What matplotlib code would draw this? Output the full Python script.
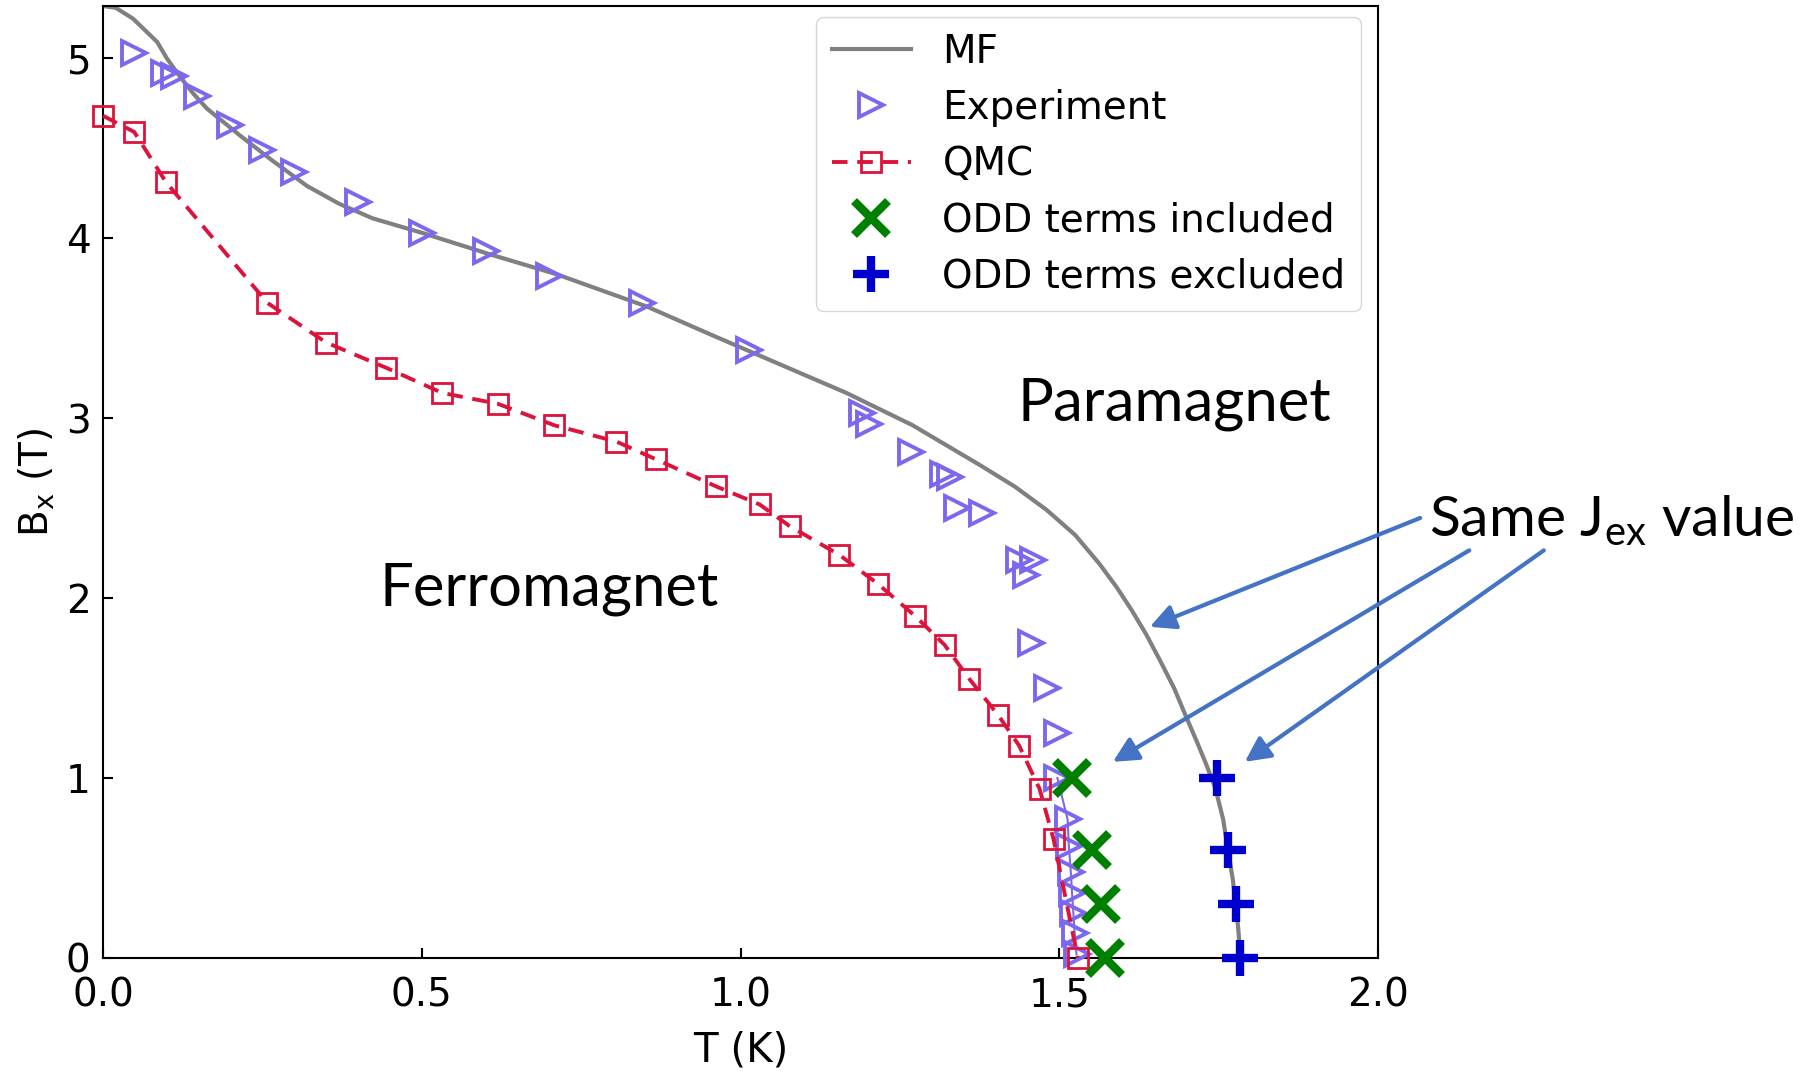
import numpy as np
import matplotlib
matplotlib.use("Agg")
import matplotlib.pyplot as plt

# mean-field phase boundary (grey line)
mf_T = [0.0, 0.02, 0.047, 0.085, 0.10, 0.116, 0.14, 0.163, 0.215, 0.266, 0.32, 0.371,
        0.423, 0.50, 0.607, 0.711, 0.853, 0.956, 1.061, 1.166, 1.27, 1.375, 1.43, 1.48,
        1.525, 1.563, 1.59, 1.614, 1.636, 1.657, 1.68, 1.699, 1.716, 1.73, 1.745, 1.757,
        1.765, 1.772, 1.777, 1.781, 1.784]
mf_B = [5.29, 5.28, 5.22, 5.09, 5.00, 4.92, 4.81, 4.72, 4.57, 4.43, 4.29, 4.19,
        4.11, 4.03, 3.91, 3.80, 3.62, 3.46, 3.30, 3.14, 2.96, 2.74, 2.62, 2.49,
        2.35, 2.19, 2.06, 1.93, 1.80, 1.66, 1.50, 1.34, 1.20, 1.08, 0.94, 0.77,
        0.59, 0.44, 0.29, 0.15, 0.0]

# experiment (triangles)
exp_T = [0.049, 0.096, 0.112, 0.148, 0.199, 0.249, 0.30, 0.40, 0.50, 0.60, 0.70, 0.846,
         1.014, 1.191, 1.202, 1.268, 1.317, 1.328, 1.339, 1.379, 1.437, 1.458, 1.448,
         1.456, 1.48, 1.497]
exp_B = [5.03, 4.92, 4.90, 4.79, 4.63, 4.49, 4.37, 4.20, 4.03, 3.93, 3.79, 3.64,
         3.38, 3.03, 2.97, 2.81, 2.69, 2.67, 2.50, 2.47, 2.21, 2.21, 2.13,
         1.75, 1.50, 1.25]
# low-field experiment points (joined by a thin line)
exp_low_T = [1.497, 1.513, 1.515, 1.518, 1.520, 1.522, 1.524, 1.527]
exp_low_B = [1.00, 0.77, 0.62, 0.48, 0.36, 0.25, 0.14, 0.02]

# quantum Monte Carlo
qmc_T = [0.0, 0.049, 0.099, 0.258, 0.35, 0.444, 0.532, 0.619, 0.708, 0.805, 0.868, 0.962,
         1.03, 1.077, 1.155, 1.215, 1.274, 1.32, 1.359, 1.404, 1.437, 1.469, 1.491, 1.529]
qmc_B = [4.68, 4.59, 4.31, 3.64, 3.42, 3.28, 3.14, 3.08, 2.96, 2.87, 2.77, 2.62,
         2.52, 2.40, 2.24, 2.08, 1.90, 1.74, 1.55, 1.35, 1.18, 0.94, 0.66, 0.0]

odd_inc_T = [1.520, 1.552, 1.566, 1.571]
odd_inc_B = [1.0, 0.6, 0.3, 0.0]
odd_exc_T = [1.748, 1.765, 1.777, 1.784]
odd_exc_B = [1.0, 0.6, 0.3, 0.0]

arrow_blue = "#4472C4"

fig = plt.figure(figsize=(18.04, 10.73), dpi=100)
ax = fig.add_axes([0.0571, 0.1072, 0.7068, 0.8872])

ax.plot(mf_T, mf_B, color="grey", lw=3, label="MF", zorder=2)
ax.plot(exp_T, exp_B, ls="none", marker=">", ms=17, mfc="none", mec="mediumslateblue",
        mew=2.8, label="Experiment", zorder=3)
ax.plot(exp_low_T, exp_low_B, ls="-", lw=1.5, color="mediumslateblue", marker=">", ms=17,
        mfc="none", mec="mediumslateblue", mew=2.8, zorder=3, clip_on=False)
ax.plot(qmc_T, qmc_B, ls="--", lw=2.8, color="crimson", marker="s", ms=14, mfc="none",
        mec="crimson", mew=2, dashes=(4, 2.5), label="QMC", zorder=4, clip_on=False)
ax.plot(odd_inc_T, odd_inc_B, ls="none", marker="x", ms=24, mew=6, color="green",
        label="ODD terms included", zorder=5, clip_on=False)
ax.plot(odd_exc_T, odd_exc_B, ls="none", marker="+", ms=26, mew=6, color="mediumblue",
        label="ODD terms excluded", zorder=5, clip_on=False)

ax.set_xlim(0, 2.0)
ax.set_ylim(0, 5.29)
ax.set_xticks([0.0, 0.5, 1.0, 1.5, 2.0])
ax.set_yticks([0, 1, 2, 3, 4, 5])
ax.tick_params(direction="in", length=7, width=1.5, labelsize=28)
ax.tick_params(axis="x", pad=13)
ax.tick_params(axis="y", pad=9)
for s in ax.spines.values():
    s.set_linewidth(1.5)
ax.set_xlabel("T (K)", fontsize=29, labelpad=12)
ax.set_ylabel(r"B$_\mathregular{x}$ (T)", fontsize=28, labelpad=6)

leg = ax.legend(loc="upper right", bbox_to_anchor=(0.9867, 0.9884), fontsize=28,
                labelspacing=0.47, handlelength=2.05, borderaxespad=0.0, framealpha=0.8)

# annotations
ax.text(1.434, 3.08, "Paramagnet", fontsize=43, family="Lato", va="center", ha="left")
ax.text(0.434, 2.05, "Ferromagnet", fontsize=43, family="Lato", va="center", ha="left")
ax.text(2.08, 2.43, r"Same J$_\mathregular{ex}$ value", fontsize=41, family="Lato",
        va="center", ha="left", clip_on=False)

arrows = [((1.642, 1.84), (2.066, 2.445)),
          ((1.584, 1.09), (2.143, 2.265)),
          ((1.791, 1.09), (2.26, 2.265))]
for head, tail in arrows:
    ax.annotate("", xy=head, xytext=tail, annotation_clip=False,
                arrowprops=dict(arrowstyle="-|>", color=arrow_blue, lw=3,
                                mutation_scale=38, shrinkA=0, shrinkB=0))

fig.savefig("out.png", dpi=100)
